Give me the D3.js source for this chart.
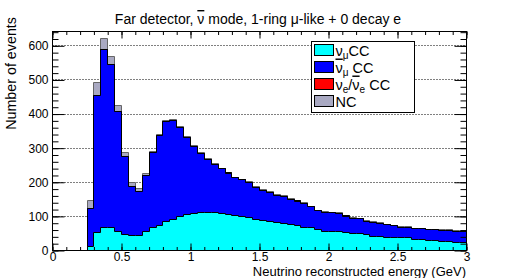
<!DOCTYPE html>
<meta charset="utf-8">
<html>
  <head>
    <style>
      body { margin: 0; background: white; }
      text { font-family: "Liberation Sans", Arial, sans-serif; }
    </style>
    <script src="https://d3js.org/d3.v7.min.js"></script>
  </head>
  <body>
<div id="my_dataviz"></div>
<script>

// reconstructed energy bins (lower edge, GeV), width 0.05
var binLow = [0.25,0.30,0.35,0.40,0.45,0.50,0.55,0.60,0.65,0.70,0.75,0.80,0.85,0.90,0.95,
              1.00,1.05,1.10,1.15,1.20,1.25,1.30,1.35,1.40,1.45,1.50,1.55,1.60,1.65,1.70,
              1.75,1.80,1.85,1.90,1.95,2.00,2.05,2.10,2.15,2.20,2.25,2.30,2.35,2.40,2.45,
              2.50,2.55,2.60,2.65,2.70,2.75,2.80,2.85,2.90,2.95]
var binWidth = 0.05

// events per bin, one array per component of the stack
var numuCC = [12,53,67,67,57,47,44,45,56,66,73,84,92,99,105,
              109,111,112,111,108,105,102,100,96,90,88,86,83,78,76,
              73,68,66,62,57,57,57,52,49,49,46,42,42,39,37,
              37,37,33,33,29,29,27,27,24,24]
var numubarCC = [110,402,522,479,351,229,144,128,163,221,264,294,290,261,227,
                 196,173,154,141,131,122,111,107,103,94,88,84,79,80,73,
                 72,71,62,54,55,53,51,49,46,44,40,41,38,36,35,
                 31,31,31,31,32,32,32,32,32,32]
var nueCC = [0.4,0.6,0.6,0.5,0.5,0.4,0.4,0.4,0.4,0.4,0.4,0.4,0.4,0.4,0.4,
             0.3,0.3,0.3,0.3,0.3,0.3,0.3,0.3,0.3,0.3,0.3,0.3,0.3,0.3,0.3,
             0.2,0.2,0.2,0.2,0.2,0.2,0.2,0.2,0.2,0.2,0.2,0.2,0.2,0.2,0.2,
             0.2,0.2,0.2,0.2,0.2,0.2,0.2,0.2,0.2,0.2]
var ncEv = [25,37,32,23,16,11,11,8,7,3,2,2,2,2,2,
            2,2,2,2,2,2,2,2,2,2,2,2,2,2,2,
            2,2,2,2,2,2,2,2,2,2,1.5,1.5,1.5,1.5,1.5,
            1.5,1.5,1.5,1.5,1.5,1.5,1.5,1.5,1.5,1.5]

var keys = ["numu", "numubar", "nue", "nc"]
var colors = {numu: "#00ffff", numubar: "#0000ff", nue: "#ff0000", nc: "#a9a9c2"}
var lineColors = {numu: "#000", numubar: "#000", nue: "#000", nc: "#666"}

var xTicks = [0, 0.5, 1, 1.5, 2, 2.5, 3]
var yTicks = [0, 100, 200, 300, 400, 500, 600]

var W = 518, H = 278
var frame = {left: 52, right: 466, top: 31, bottom: 250}

var svg = d3.select("#my_dataviz")
  .append("svg")
  .attr("width", W)
  .attr("height", H)

var g = svg.append("g").attr("transform", "translate(0.5,0.5)")

var x = d3.scaleLinear().domain([0, 3]).range([frame.left, frame.right])
var y = d3.scaleLinear().domain([0, 642]).range([frame.bottom, frame.top])

// grid
g.selectAll(".grid")
  .data(yTicks.slice(1))
  .enter().append("line")
  .attr("x1", frame.left).attr("x2", frame.right)
  .attr("y1", d => Math.round(y(d))).attr("y2", d => Math.round(y(d)))
  .attr("stroke", "#000").attr("stroke-dasharray", "1,2")

// stacked rows
var rows = binLow.map((lo, i) => ({lo: lo, numu: numuCC[i], numubar: numubarCC[i], nue: nueCC[i], nc: ncEv[i]}))
var stacked = d3.stack().keys(keys)(rows)

function stepPath(layer) {
  var pts = [[x(rows[0].lo), y(0)]]
  layer.forEach((d, i) => {
    pts.push([x(rows[i].lo), y(d[1])])
    pts.push([x(rows[i].lo + binWidth), y(d[1])])
  })
  pts.push([x(rows[rows.length - 1].lo + binWidth), y(0)])
  return d3.line().x(p => Math.round(p[0])).y(p => Math.round(p[1]))(pts)
}

// ROOT style: draw cumulative histograms from the top down
stacked.slice().reverse().forEach(layer => {
  g.append("path")
    .attr("d", stepPath(layer))
    .attr("fill", colors[layer.key])
    .attr("stroke", lineColors[layer.key])
    .attr("stroke-width", 1)
})

// axes (ticks inward on all four sides)
function styleAxis(sel) {
  sel.select(".domain").remove()
  sel.selectAll("text").style("font-size", "12px").style("font-family", "Liberation Sans, Arial, sans-serif").attr("fill", "#000")
}
var xMinor = d3.range(0, 3.001, 0.1)
var yMinor = d3.range(0, 641, 20)

g.append("g").attr("transform", "translate(0," + frame.bottom + ")")
  .call(d3.axisBottom(x).tickValues(xMinor).tickSize(-3.5).tickFormat(""))
  .call(styleAxis)
g.append("g").attr("transform", "translate(0," + frame.bottom + ")")
  .call(d3.axisBottom(x).tickValues(xTicks).tickSize(-7).tickPadding(2).tickFormat(d3.format("")))
  .call(styleAxis)
g.append("g").attr("transform", "translate(0," + frame.top + ")")
  .call(d3.axisTop(x).tickValues(xMinor).tickSize(-3.5).tickFormat(""))
  .call(styleAxis)
g.append("g").attr("transform", "translate(0," + frame.top + ")")
  .call(d3.axisTop(x).tickValues(xTicks).tickSize(-7).tickFormat(""))
  .call(styleAxis)

g.append("g").attr("transform", "translate(" + frame.left + ",0)")
  .call(d3.axisLeft(y).tickValues(yMinor).tickSize(-6).tickFormat(""))
  .call(styleAxis)
g.append("g").attr("transform", "translate(" + frame.left + ",0)")
  .call(d3.axisLeft(y).tickValues(yTicks).tickSize(-12).tickPadding(4).tickFormat(d3.format("d")))
  .call(styleAxis)
g.append("g").attr("transform", "translate(" + frame.right + ",0)")
  .call(d3.axisRight(y).tickValues(yMinor).tickSize(-6).tickFormat(""))
  .call(styleAxis)
g.append("g").attr("transform", "translate(" + frame.right + ",0)")
  .call(d3.axisRight(y).tickValues(yTicks).tickSize(-12).tickFormat(""))
  .call(styleAxis)

// frame
g.append("rect")
  .attr("x", frame.left).attr("y", frame.top)
  .attr("width", frame.right - frame.left).attr("height", frame.bottom - frame.top)
  .attr("fill", "none").attr("stroke", "#000")

// titles
var title = svg.append("text")
  .attr("x", 258).attr("y", 24)
  .attr("text-anchor", "middle")
  .style("font-size", "14px")
title.append("tspan").text("Far detector, ")
title.append("tspan").style("text-decoration", "overline").text("\u03BD")
title.append("tspan").text(" mode, 1-ring \u03BC-like + 0 decay e")

svg.append("text")
  .attr("x", 466).attr("y", 275.5)
  .attr("text-anchor", "end")
  .style("font-size", "13px")
  .text("Neutrino reconstructed energy (GeV)")

svg.append("text")
  .attr("transform", "translate(16,17) rotate(-90)")
  .attr("text-anchor", "end")
  .style("font-size", "14.3px")
  .text("Number of events")

// legend
var legend = svg.append("g").attr("transform", "translate(0.5,0.5)")
legend.append("rect")
  .attr("x", 311).attr("y", 41).attr("width", 103).attr("height", 71)
  .attr("fill", "#fff").attr("stroke", "#000")

// [text, subscript?, overline?]
var legendLabels = [
  [["\u03BD", 0, 0], ["\u03BC", 1, 0], ["CC", 0, 0]],
  [["\u03BD", 0, 1], ["\u03BC", 1, 0], [" CC", 0, 0]],
  [["\u03BD", 0, 0], ["e", 1, 0], ["/", 0, 0], ["\u03BD", 0, 1], ["e", 1, 0], [" CC", 0, 0]],
  [["NC", 0, 0]]
]
var legendKeys = ["numu", "numubar", "nue", "nc"]

legendKeys.forEach((k, i) => {
  var yy = 44 + i * 17
  legend.append("rect")
    .attr("x", 314).attr("y", yy).attr("width", 19).attr("height", 11)
    .attr("fill", colors[k]).attr("stroke", "#000")
  var t = legend.append("text")
    .attr("x", 335).attr("y", yy + 11)
    .style("font-size", "14.5px")
  var prevSub = 0
  legendLabels[i].forEach(p => {
    var dy = p[1] === prevSub ? 0 : (p[1] ? 3 : -3)
    t.append("tspan")
      .attr("dy", dy)
      .style("font-size", p[1] ? "10px" : "14.5px")
      .style("text-decoration", p[2] ? "overline" : null)
      .text(p[0])
    prevSub = p[1]
  })
})

</script>
</body>
</html>
